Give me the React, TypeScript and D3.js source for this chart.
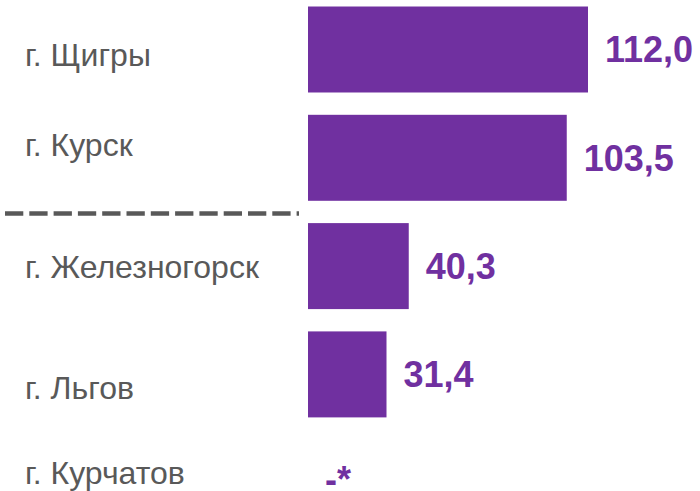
import * as d3 from 'd3'

const cities = ['г. Щигры', 'г. Курск', 'г. Железногорск', 'г. Льгов', 'г. Курчатов']
const values = [112.0, 103.5, 40.3, 31.4, 0]
const valueLabels = ['112,0', '103,5', '40,3', '31,4', '-*']
// vertical nudge of each city name relative to its bar centre
const labelShift = [5, -13, 1, 13, -10]

const W = 700
const H = 491
const PURPLE = '#7030a0'
const GREY = '#595959'

export default function App() {
  const x = d3.scaleLinear().domain([0, 112]).range([308, 588])
  const y = d3
    .scaleBand<string>()
    .domain(cities)
    .range([-4.65, 536.85])
    .paddingInner(0.206)
    .paddingOuter(0.103)
  const bw = y.bandwidth()

  const sepY = ((y(cities[1]) ?? 0) + bw + (y(cities[2]) ?? 0)) / 2 + 1.5

  return (
    <svg
      width={W}
      height={H}
      style={{ position: 'absolute', left: 0, top: 0, background: '#fff' }}
      fontFamily="'Liberation Sans', Arial, sans-serif"
    >
      {cities.map((c, i) => {
        const top = y(c) ?? 0
        const cy = top + bw / 2
        return (
          <g key={c}>
            {values[i] > 0 && (
              <rect x={x(0)} y={top} width={x(values[i]) - x(0)} height={bw} fill={PURPLE} />
            )}
            <text x={25} y={cy + labelShift[i]} dy="0.35em" fontSize={32} fill={GREY}>
              {c}
            </text>
            <text
              x={x(values[i]) + 17}
              y={values[i] > 0 ? cy : cy - 4}
              dy="0.36em"
              fontSize={36}
              fontWeight="bold"
              fill={PURPLE}
            >
              {valueLabels[i]}
            </text>
          </g>
        )
      })}
      <line
        x1={5}
        x2={299}
        y1={sepY}
        y2={sepY}
        stroke={GREY}
        strokeWidth={4.5}
        strokeDasharray="18.3 6"
      />
    </svg>
  )
}
